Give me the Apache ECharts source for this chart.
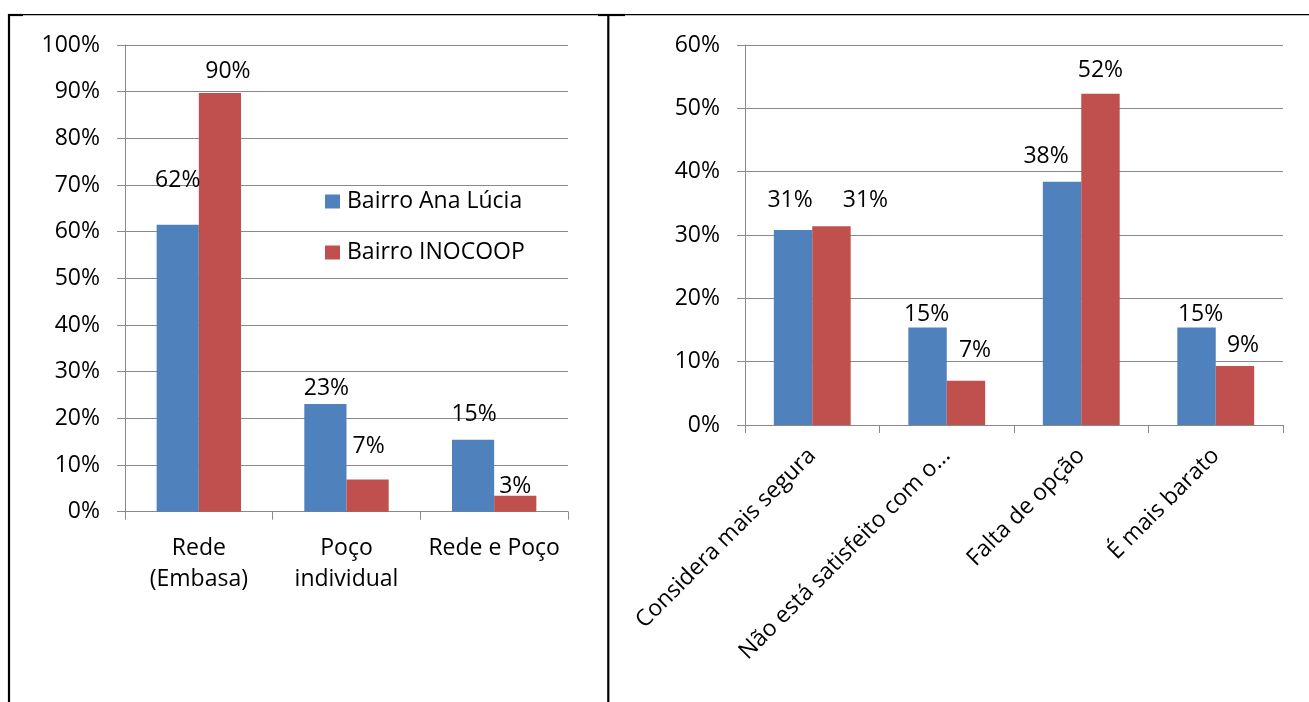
<!DOCTYPE html>
<html>
<head>
<meta charset="utf-8">
<script src="https://cdn.jsdelivr.net/npm/echarts@6/dist/echarts.min.js"></script>
<style>
  html, body { margin: 0; padding: 0; background: #fff; }
  #chart { width: 1309px; height: 702px; }
</style>
</head>
<body>
<div id="chart"></div>
<script>
// Fonte de abastecimento de água por bairro (%)
const sourceCategories = ['Rede\n(Embasa)', 'Poço\nindividual', 'Rede e Poço'];
const sourceAnaLucia = [61.5, 23.1, 15.4];
const sourceInocoop = [89.7, 6.9, 3.4];

// Motivo da escolha da fonte (%)
const reasonCategories = ['Considera mais segura', 'Não está satisfeito com o...', 'Falta de opção', 'É mais barato'];
const reasonAnaLucia = [30.8, 15.4, 38.4, 15.4];
const reasonInocoop = [31.4, 7.0, 52.3, 9.3];

const seriesNames = ['Bairro Ana Lúcia', 'Bairro INOCOOP'];
const leftTicks = { max: 100, interval: 10 };
const rightTicks = { max: 60, interval: 10 };

// hand-placed value labels: [dx, dy] nudges from the default spot above each bar
const sourceAnaLuciaNudge = [[0, -27], [1, 2], [1, -8]];
const sourceInocoopNudge = [[8, -4], [1, -16], [0, 8]];
const reasonAnaLuciaNudge = [[-3, -12], [-1, 4], [-16, -8], [4, 4]];
const reasonInocoopNudge = [[34, -8], [9, -13], [0, -6], [8, -3]];

const BLUE = '#4F81BD';
const RED = '#C0504D';
const GRID_GRAY = '#898989';
const FONT = 'Open Sans';
const FS = 23;

const chart = echarts.init(document.getElementById('chart'), null, { renderer: 'canvas' });

const pctLabel = {
  show: true,
  position: 'top',
  distance: 6,
  color: '#000',
  fontFamily: FONT,
  fontSize: FS,
  formatter: p => Math.round(p.value) + '%'
};

function valueAxis(gridIndex, ticks) {
  return {
    type: 'value',
    gridIndex,
    min: 0,
    max: ticks.max,
    interval: ticks.interval,
    axisLine: { show: true, lineStyle: { color: GRID_GRAY, width: 1 } },
    axisTick: { show: true, length: 8, lineStyle: { color: GRID_GRAY } },
    splitLine: { show: true, lineStyle: { color: GRID_GRAY, width: 1 } },
    axisLabel: { color: '#000', fontFamily: FONT, fontSize: FS, margin: 25, formatter: '{value}%' }
  };
}

function barSeries(name, values, nudges, color, axisIdx) {
  return {
    name,
    type: 'bar',
    data: values.map((v, i) => ({ value: v, label: { offset: nudges[i] } })),
    xAxisIndex: axisIdx,
    yAxisIndex: axisIdx,
    barGap: '0%',
    barCategoryGap: '42.86%',
    itemStyle: { color },
    label: pctLabel,
    animation: false
  };
}

function borderLine(x1, y1, x2, y2, w) {
  return {
    type: 'line',
    shape: { x1, y1, x2, y2 },
    style: { stroke: '#000', lineWidth: w },
    silent: true
  };
}

chart.setOption({
  animation: false,
  textStyle: { fontFamily: FONT },
  grid: [
    { left: 125, right: 741, top: 45, bottom: 190.3, containLabel: false },
    { left: 745, right: 26, top: 45, bottom: 277, containLabel: false }
  ],
  legend: {
    data: seriesNames,
    orient: 'vertical',
    left: 320,
    top: 185,
    itemWidth: 15,
    itemHeight: 14,
    itemGap: 28,
    icon: 'rect',
    textStyle: { color: '#000', fontFamily: FONT, fontSize: FS, padding: [0, 0, 0, 2] }
  },
  xAxis: [
    {
      type: 'category',
      gridIndex: 0,
      data: sourceCategories,
      axisLine: { show: true, lineStyle: { color: GRID_GRAY, width: 1 } },
      axisTick: { show: true, length: 8, alignWithLabel: false, lineStyle: { color: GRID_GRAY } },
      axisLabel: { interval: 0, color: '#000', fontFamily: FONT, fontSize: FS, lineHeight: 31, margin: 21 }
    },
    {
      type: 'category',
      gridIndex: 1,
      data: reasonCategories,
      axisLine: { show: true, lineStyle: { color: GRID_GRAY, width: 1 } },
      axisTick: { show: true, length: 8, alignWithLabel: false, lineStyle: { color: GRID_GRAY } },
      axisLabel: { interval: 0, rotate: 45, color: '#000', fontFamily: FONT, fontSize: FS, margin: 27 }
    }
  ],
  yAxis: [valueAxis(0, leftTicks), valueAxis(1, rightTicks)],
  series: [
    barSeries(seriesNames[0], sourceAnaLucia, sourceAnaLuciaNudge, BLUE, 0),
    barSeries(seriesNames[1], sourceInocoop, sourceInocoopNudge, RED, 0),
    barSeries(seriesNames[0], reasonAnaLucia, reasonAnaLuciaNudge, BLUE, 1),
    barSeries(seriesNames[1], reasonInocoop, reasonInocoopNudge, RED, 1)
  ],
  graphic: [
    // table cell borders around the two charts
    borderLine(8, 14.6, 1309, 14.6, 1.3),
    borderLine(9, 14, 9, 702, 2.2),
    borderLine(608.3, 14, 608.3, 702, 2.2),
    borderLine(8, 15, 23, 15, 2.2),
    borderLine(598, 15, 625, 15, 2.2)
  ]
});
</script>
</body>
</html>
